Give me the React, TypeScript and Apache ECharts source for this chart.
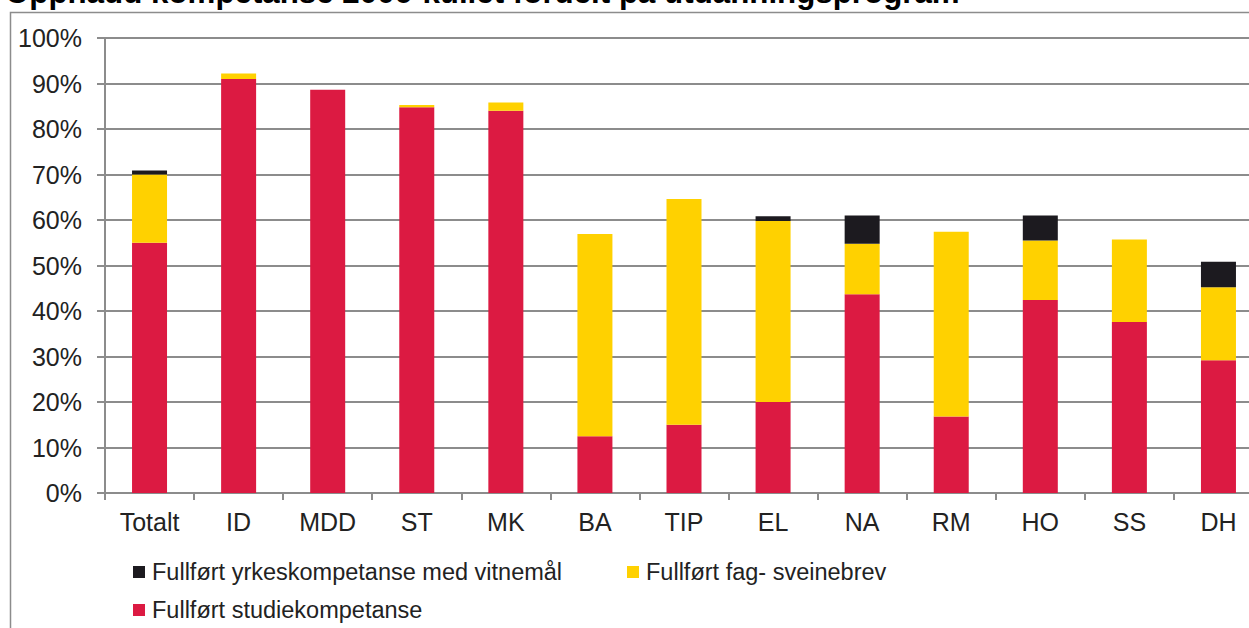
import React, { useEffect, useRef } from "react";
import * as echarts from "echarts";

const titleText = "Oppnådd kompetanse 2006-kullet fordelt på utdanningsprogram";
const categories = ["Totalt", "ID", "MDD", "ST", "MK", "BA", "TIP", "EL", "NA", "RM", "HO", "SS", "DH"];
const studiekompetanse = [55, 91, 88.6, 84.8, 84, 12.5, 15, 20, 43.7, 16.8, 42.4, 37.6, 29.2];
const fagSveinebrev = [15, 1.2, 0, 0.5, 1.8, 44.4, 49.6, 39.8, 11.1, 40.6, 13.1, 18.1, 16];
const yrkeskompetanse = [0.9, 0, 0, 0, 0, 0, 0, 1, 6.2, 0, 5.5, 0, 5.6];
const seriesNames = [
  "Fullført studiekompetanse",
  "Fullført fag- sveinebrev",
  "Fullført yrkeskompetanse med vitnemål",
];
const colors = ["#DC1A42", "#FFD100", "#1C1A1F"];

const FONT = "'Liberation Sans', Arial, sans-serif";

export default function App() {
  const ref = useRef<HTMLDivElement>(null);
  useEffect(() => {
    if (!ref.current) return;
    const chart = echarts.init(ref.current, null, { renderer: "svg" });
    const legendText = { fontFamily: FONT, fontSize: 23.5, color: "#222", padding: [0, 0, 0, 2] };
    const legendBase = {
      orient: "horizontal",
      itemWidth: 12,
      itemHeight: 12,
      icon: "rect",
      padding: 0,
      textStyle: legendText,
      selectedMode: false,
    };
    chart.setOption({
      animation: false,
      backgroundColor: "#ffffff",
      graphic: [
        {
          type: "rect",
          shape: { x: 10.5, y: 12.5, width: 1400, height: 800 },
          style: { fill: "none", stroke: "#8c8c8c", lineWidth: 1.5 },
          silent: true,
        },
        {
          type: "text",
          x: 5,
          y: 8,
          style: {
            text: titleText,
            font: `bold 31.3px ${FONT}`,
            fill: "#000",
            verticalAlign: "bottom",
            align: "left",
          },
        },
      ],
      legend: [
        { ...legendBase, left: 133, top: 560, data: [seriesNames[2]] },
        { ...legendBase, left: 627, top: 560, data: [seriesNames[1]] },
        { ...legendBase, left: 133, top: 598, data: [seriesNames[0]] },
      ],
      grid: { left: 105, top: 38, right: 17, bottom: 135, containLabel: false },
      xAxis: {
        type: "category",
        data: categories,
        boundaryGap: true,
        axisLine: { show: true, lineStyle: { color: "#8c8c8c", width: 2 } },
        axisTick: { show: true, length: 7, lineStyle: { color: "#8c8c8c", width: 2 } },
        axisLabel: { fontFamily: FONT, fontSize: 25, color: "#222", margin: 16 },
      },
      yAxis: {
        type: "value",
        min: 0,
        max: 100,
        interval: 10,
        axisLine: { show: true, lineStyle: { color: "#8c8c8c", width: 2 } },
        axisTick: { show: true, length: 8, lineStyle: { color: "#8c8c8c", width: 2 } },
        splitLine: { show: true, lineStyle: { color: "#8c8c8c", width: 2 } },
        axisLabel: {
          fontFamily: FONT,
          fontSize: 25,
          color: "#222",
          margin: 23,
          formatter: "{value}%",
        },
      },
      series: [
        { name: seriesNames[0], type: "bar", stack: "a", data: studiekompetanse, barWidth: 35, itemStyle: { color: colors[0] } },
        { name: seriesNames[1], type: "bar", stack: "a", data: fagSveinebrev, barWidth: 35, itemStyle: { color: colors[1] } },
        { name: seriesNames[2], type: "bar", stack: "a", data: yrkeskompetanse, barWidth: 35, itemStyle: { color: colors[2] } },
      ],
    });
    return () => chart.dispose();
  }, []);
  return (
    <div style={{ position: "absolute", left: 0, top: 0, width: 1249, height: 628, overflow: "hidden" }}>
      <div ref={ref} style={{ width: 1280, height: 628 }} />
    </div>
  );
}
